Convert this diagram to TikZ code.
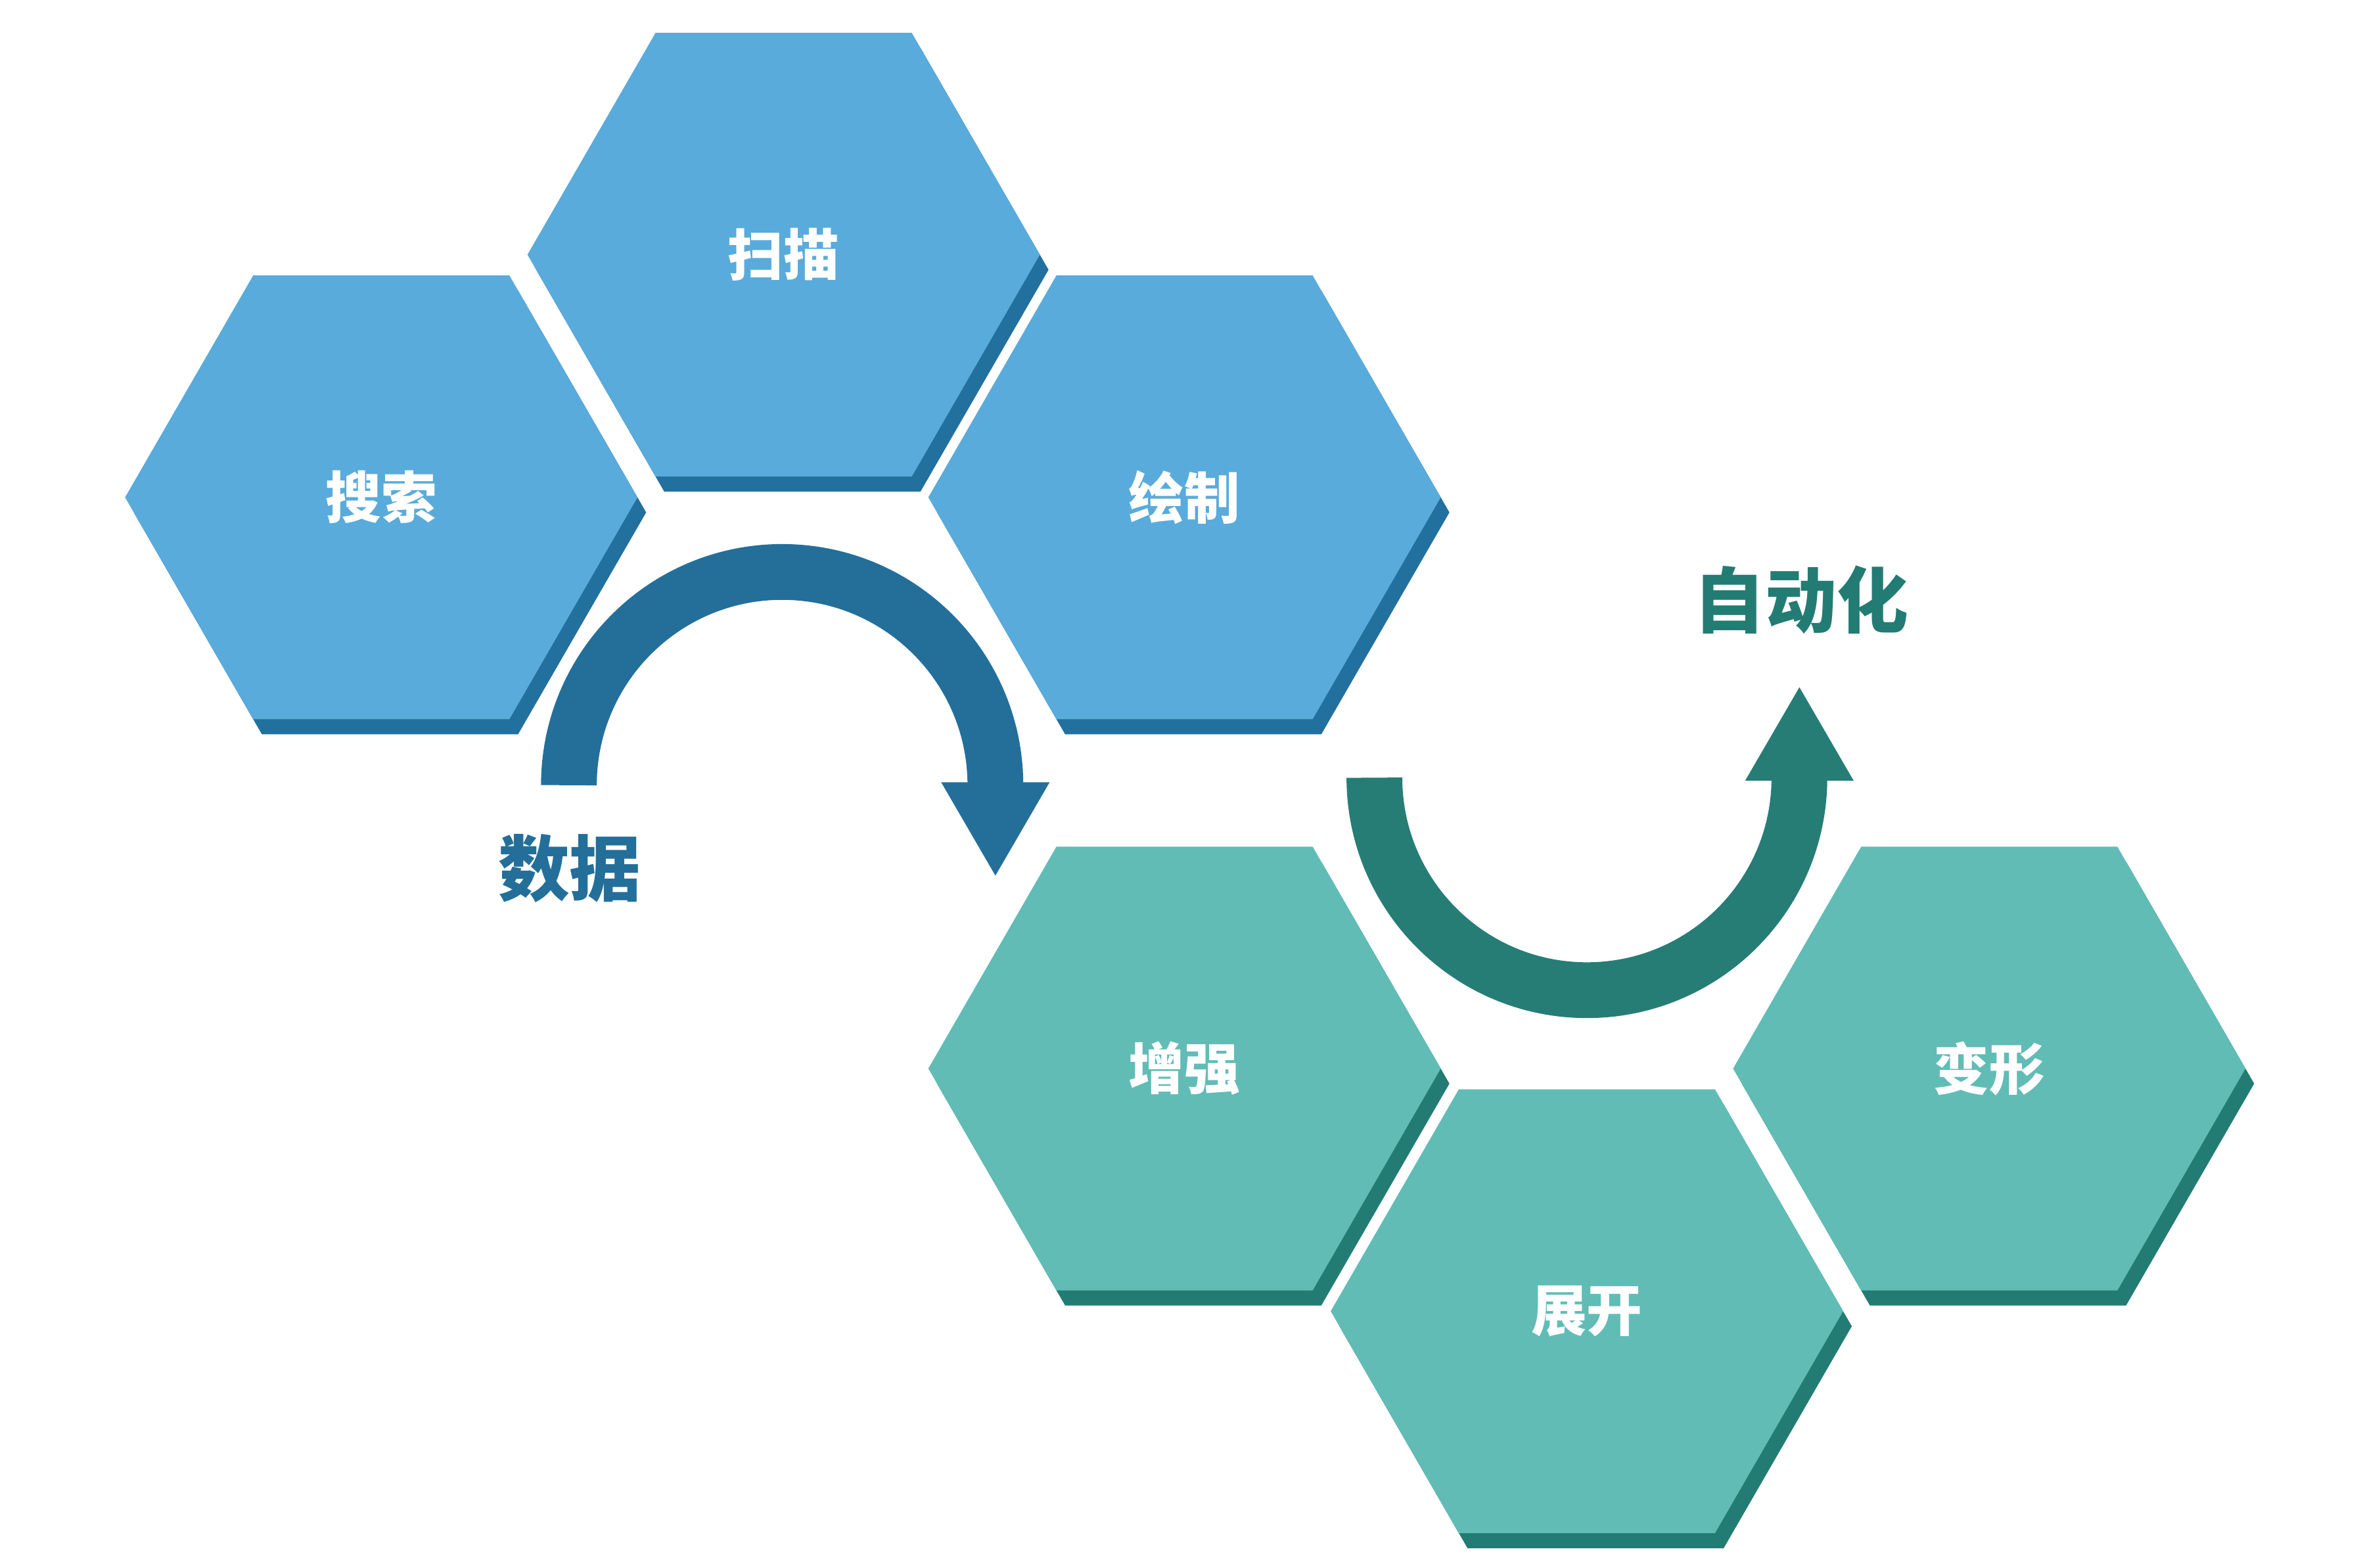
\documentclass[tikz,border=0pt]{standalone}
\usepackage{fontspec}
\newfontfamily\cjk{Noto Sans CJK SC}
\usetikzlibrary{shapes.geometric, arrows.meta, shadows}
\definecolor{hexBlue}{HTML}{59ABDB}
\definecolor{hexBlueDark}{HTML}{22709E}
\definecolor{arrBlue}{HTML}{236F9A}
\definecolor{hexTeal}{HTML}{61BCB6}
\definecolor{hexTealDark}{HTML}{237C73}
\definecolor{arrTeal}{HTML}{267D76}

\begin{document}
\begin{tikzpicture}[
    hexcell/.style={regular polygon, regular polygon sides=6, minimum size=3.4cm, inner sep=0pt,
        font=\fontsize{10.5}{12}\cjk\bfseries, text=white},
    bluecell/.style={hexcell, fill=hexBlue,
        general shadow={fill=hexBlueDark, shadow xshift=0.0577cm, shadow yshift=-0.1cm}},
    tealcell/.style={hexcell, fill=hexTeal,
        general shadow={fill=hexTealDark, shadow xshift=0.0577cm, shadow yshift=-0.1cm}},
    bigarrow/.style={line width=0.37cm, -{Triangle[width=0.72cm, length=0.62cm, line width=0pt]}},
    biglabel/.style={font=\fontsize{13.5}{16}\cjk\bfseries},
]
    \useasboundingbox (0,0) rectangle (15.68,-10.40);

    % Blue cells
    \node[bluecell] (search) at (2.53, -3.30) {搜索};
    \node[bluecell] (scan)   at (5.20, -1.69) {扫描};
    \node[bluecell] (draw)   at (7.86, -3.30) {绘制};

    % Teal cells
    \node[tealcell] (enhance) at (7.86, -7.09) {增强};
    \node[tealcell] (unfold)  at (10.53, -8.70) {展开};
    \node[tealcell] (morph)   at (13.20, -7.09) {变形};

    % Arrows
    \coordinate (dataFrom) at (3.775, -5.21);
    \coordinate (dataTo)   at (6.605, -5.81);
    \draw[bigarrow, arrBlue] (dataFrom) arc[start angle=180, end angle=0, radius=1.415] -- (dataTo);

    \coordinate (autoFrom) at (9.12, -5.16);
    \coordinate (autoTo)   at (11.94, -4.56);
    \draw[bigarrow, arrTeal] (autoFrom) arc[start angle=180, end angle=360, radius=1.41] -- (autoTo);

    % Labels
    \node[biglabel, text=arrBlue] (data) at (3.78, -5.76) {数据};
    \node[biglabel, text=hexTealDark] (auto) at (11.95, -3.98) {自动化};
\end{tikzpicture}
\end{document}
